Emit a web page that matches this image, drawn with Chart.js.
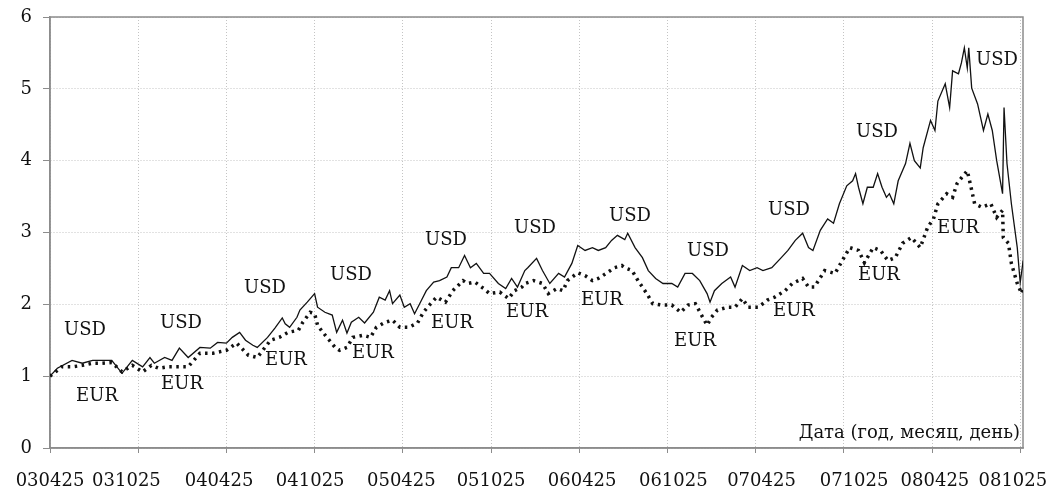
<!DOCTYPE html>
<html>
<head>
<meta charset="utf-8">
<script src="https://cdn.jsdelivr.net/npm/chart.js@4.4.0/dist/chart.umd.min.js"></script>
<style>
  body { margin: 0; background: #fff; }
  #wrap { width: 1050px; height: 492px; position: relative; }
</style>
</head>
<body>
<div id="wrap"><canvas id="myChart"></canvas></div>
<script>
// месяцы от 030425
var tickMonths = [0, 6, 12, 18, 24, 30, 36, 42, 48, 54, 60, 66]
var tickLabels = ['030425', '031025', '040425', '041025', '050425', '051025',
                  '060425', '061025', '070425', '071025', '080425', '081025']
// где стоят подписи (в оригинале они чуть смещены от линий сетки)
var labelMonths = [0, 5.2, 11.5, 17.7, 23.9, 30.0, 36.2, 42.4, 48.4, 54.7, 60.2, 65.5]

var usdMonths = [0,0.5,1.5,2.2,2.9,3.5,4.2,4.9,5.6,6.3,6.8,7.1,7.8,8.3,8.8,9.4,
  10.2,10.9,11.4,12.0,12.4,12.9,13.3,13.8,14.1,14.8,
  15.3,15.8,16.0,16.3,16.8,17.0,17.5,18.0,18.2,18.7,
  19.2,19.5,19.9,20.2,20.5,21.0,21.4,22.0,22.4,22.8,
  23.1,23.3,23.8,24.1,24.5,24.8,25.2,25.6,26.1,26.5,
  27.0,27.3,27.8,28.2,28.6,29.0,29.5,29.9,30.5,31.0,
  31.4,31.8,32.3,
  32.5,33.1,33.5,34.0,34.6,35.0,35.5,35.9,36.4,36.9,
  37.3,37.8,38.2,38.6,39.1,39.3,39.8,40.3,40.7,41.2,
  41.7,42.3,42.7,43.2,43.7,44.2,44.7,44.9,45.2,45.7,
  46.3,46.6,47.1,47.6,48.1,48.5,49.1,49.7,50.2,50.7,
  51.2,51.6,51.9,
  52.4,52.9,53.3,53.7,54.2,54.6,54.8,55.0,55.3,55.6,
  56.0,56.3,56.6,56.9,57.1,57.4,57.7,58.2,58.5,58.8,
  59.2,59.4,59.9,60.2,60.4,60.9,61.2,61.4,61.8,62.0,
  62.2,62.4,62.5,62.7,63.1,63.5,63.8,64.1,64.4,64.8,
  64.9,65.1,65.4,65.8,66.0,66.2]
var usdValues = [1.00,1.11,1.22,1.18,1.22,1.22,1.22,1.04,1.22,1.13,1.26,1.18,1.26,1.22,1.39,1.26,
  1.40,1.39,1.47,1.46,1.54,1.61,1.50,1.43,1.40,1.54,
  1.67,1.81,1.73,1.68,1.82,1.92,2.03,2.15,1.96,1.89,
  1.85,1.61,1.78,1.60,1.75,1.82,1.74,1.89,2.10,2.06,
  2.19,2.01,2.13,1.96,2.01,1.87,2.03,2.19,2.31,2.33,
  2.38,2.51,2.51,2.68,2.51,2.57,2.43,2.43,2.29,2.22,
  2.36,2.24,2.47,
  2.51,2.64,2.47,2.29,2.43,2.38,2.57,2.82,2.75,2.79,
  2.75,2.79,2.89,2.96,2.90,2.99,2.79,2.65,2.47,2.36,
  2.29,2.29,2.24,2.43,2.43,2.33,2.15,2.03,2.19,2.29,
  2.38,2.24,2.54,2.47,2.51,2.47,2.51,2.64,2.75,2.89,
  2.99,2.79,2.75,
  3.03,3.19,3.13,3.40,3.65,3.72,3.82,3.63,3.40,3.63,
  3.63,3.82,3.63,3.49,3.54,3.40,3.72,3.96,4.24,4.00,
  3.90,4.18,4.56,4.42,4.83,5.07,4.74,5.25,5.21,5.36,
  5.57,5.29,5.57,5.01,4.79,4.42,4.65,4.42,4.00,3.54,
  4.74,3.96,3.40,2.79,2.30,2.61]

var eurMonths = [0,0.8,1.5,2.2,2.9,3.5,4.2,4.9,5.6,6.3,6.9,7.4,8.0,8.7,9.4,
  10.2,11.1,12.0,12.7,13.5,14.1,15.0,15.6,16.2,16.9,
  17.2,17.7,18.0,18.2,18.6,19.0,19.4,19.7,20.2,20.6,
  21.3,21.8,22.2,22.8,23.3,23.8,24.4,25.0,25.4,25.9,
  26.3,26.9,27.4,28.1,28.4,28.9,29.5,29.9,30.6,31.2,
  31.6,32.1,
  32.3,32.9,33.5,33.9,
  34.5,34.9,35.2,35.9,36.4,36.9,37.3,37.9,38.4,38.9,
  39.1,39.6,40.0,40.6,41.0,41.6,42.3,42.9,43.4,43.9,
  44.4,44.7,45.0,45.4,46.1,46.6,47.1,47.5,48.2,48.8,
  49.3,50.0,50.5,51.2,51.6,52.0,52.7,53.4,53.9,54.4,
  55.0,55.4,56.0,56.5,57.0,57.5,58.0,58.6,59.2,59.7,
  60.1,60.4,61.0,61.4,61.7,62.0,62.4,62.6,62.9,63.4,
  64.0,64.4,64.8,64.85,65.2,65.4,65.8,66.1,66.2]
var eurValues = [1.00,1.13,1.13,1.15,1.18,1.18,1.19,1.06,1.15,1.06,1.15,1.11,1.13,1.13,1.13,
  1.32,1.32,1.36,1.46,1.29,1.26,1.50,1.54,1.61,1.64,
  1.75,1.89,1.87,1.71,1.60,1.50,1.40,1.36,1.40,1.54,
  1.57,1.54,1.68,1.75,1.78,1.68,1.68,1.74,1.89,2.01,
  2.10,2.03,2.19,2.33,2.29,2.31,2.22,2.15,2.17,2.08,
  2.19,2.24,
  2.29,2.33,2.29,2.15,
  2.22,2.19,2.33,2.44,2.40,2.33,2.36,2.44,2.51,2.54,
  2.51,2.47,2.33,2.15,2.01,1.99,1.99,1.89,1.99,2.01,
  1.82,1.71,1.82,1.92,1.96,1.96,2.08,1.96,1.96,2.06,
  2.10,2.19,2.29,2.36,2.24,2.24,2.47,2.43,2.61,2.79,
  2.75,2.58,2.79,2.75,2.61,2.65,2.85,2.93,2.79,3.07,
  3.19,3.40,3.54,3.49,3.68,3.76,3.86,3.68,3.40,3.35,
  3.40,3.21,3.31,2.93,2.85,2.57,2.29,2.15,2.24]

// подписи на поле графика
var noteText = ['USD','USD','USD','USD','USD','USD','USD','USD','USD','USD','USD',
                'EUR','EUR','EUR','EUR','EUR','EUR','EUR','EUR','EUR','EUR','EUR']
var noteMonth = [2.38, 8.91, 14.63, 20.48, 26.94, 32.99, 39.46, 44.76, 50.27, 56.26, 64.42,
                 3.20, 8.98, 16.05, 21.97, 27.35, 32.45, 37.55, 43.88, 50.61, 56.39, 61.77]
var noteValue = [1.64, 1.74, 2.22, 2.40, 2.89, 3.06, 3.22, 2.74, 3.31, 4.40, 5.39,
                 0.72, 0.89, 1.22, 1.32, 1.74, 1.89, 2.06, 1.49, 1.90, 2.40, 3.06]
var axisTitle = 'Дата (год, месяц, день)'

var FONT = '"DejaVu Serif", serif'

var frame = {
    id: 'frame',
    beforeDatasetsDraw(chart) {
        var a = chart.chartArea, ctx = chart.ctx
        ctx.save()
        ctx.strokeStyle = '#8c8c8c'
        ctx.lineWidth = 1.5
        ctx.strokeRect(a.left, a.top, a.right - a.left, a.bottom - a.top)
        ctx.restore()
    },
    afterDatasetsDraw(chart) {
        var ctx = chart.ctx, x = chart.scales.x, y = chart.scales.y, a = chart.chartArea
        ctx.save()
        ctx.fillStyle = '#111'
        ctx.font = '18px ' + FONT
        ctx.textAlign = 'center'
        ctx.textBaseline = 'middle'
        for (var i = 0; i < noteText.length; i++) {
            ctx.fillText(noteText[i], x.getPixelForValue(noteMonth[i]), y.getPixelForValue(noteValue[i]))
        }
        ctx.textAlign = 'right'
        ctx.fillText(axisTitle, a.right - 3, a.bottom - 15)
        ctx.restore()
    }
}

var canvas = document.getElementById('myChart')
var myChart = new Chart(canvas, {
    type: 'line',
    data: {
        datasets: [{
            label: 'USD',
            data: usdMonths.map((m, i) => ({ x: m, y: usdValues[i] })),
            borderColor: '#111',
            borderWidth: 1.3,
            pointRadius: 0,
            tension: 0
        },
        {
            label: 'EUR',
            data: eurMonths.map((m, i) => ({ x: m, y: eurValues[i] })),
            borderColor: '#111',
            borderWidth: 3.5,
            borderDash: [2.5, 4.5],
            pointRadius: 0,
            tension: 0
        }]
    },
    options: {
        responsive: true,
        maintainAspectRatio: false,
        animation: false,
        layout: { autoPadding: false, padding: { top: 17, right: 27, left: 0, bottom: 0 } },
        plugins: { legend: { display: false }, tooltip: { enabled: false } },
        scales: {
            x: {
                type: 'linear',
                weight: 0,
                min: 0,
                max: 66.19,
                afterBuildTicks: (s) => { s.ticks = tickMonths.map(v => ({ value: v })) },
                afterFit: (s) => { s.height = 5; s.paddingLeft = 0; s.paddingRight = 0 },
                ticks: { display: false },
                grid: { color: '#c4c4c4', tickLength: 5, tickColor: '#8c8c8c', lineWidth: 1 },
                border: { color: '#8c8c8c', width: 1.5, dash: [1, 2] }
            },
            x2: {
                type: 'linear',
                position: 'bottom',
                weight: 1,
                min: 0,
                max: 66.19,
                afterBuildTicks: (s) => { s.ticks = labelMonths.map(v => ({ value: v })) },
                afterFit: (s) => { s.height = 39; s.paddingLeft = 0; s.paddingRight = 0 },
                ticks: {
                    autoSkip: false,
                    maxRotation: 0,
                    padding: 18,
                    color: '#111',
                    font: { family: FONT, size: 18 },
                    callback: (v) => tickLabels[labelMonths.indexOf(v)]
                },
                grid: { display: false, drawTicks: false },
                border: { display: false }
            },
            y: {
                min: 0,
                max: 6,
                afterFit: (s) => { s.width = 50; s.paddingTop = 0; s.paddingBottom = 0 },
                ticks: {
                    stepSize: 1,
                    padding: 11,
                    color: '#111',
                    font: { family: FONT, size: 18 }
                },
                grid: { color: '#c4c4c4', tickLength: 7, tickColor: '#8c8c8c', lineWidth: 1 },
                border: { color: '#8c8c8c', width: 1.5, dash: [1, 2] }
            }
        }
    },
    plugins: [frame]
});
</script>
</body>
</html>
